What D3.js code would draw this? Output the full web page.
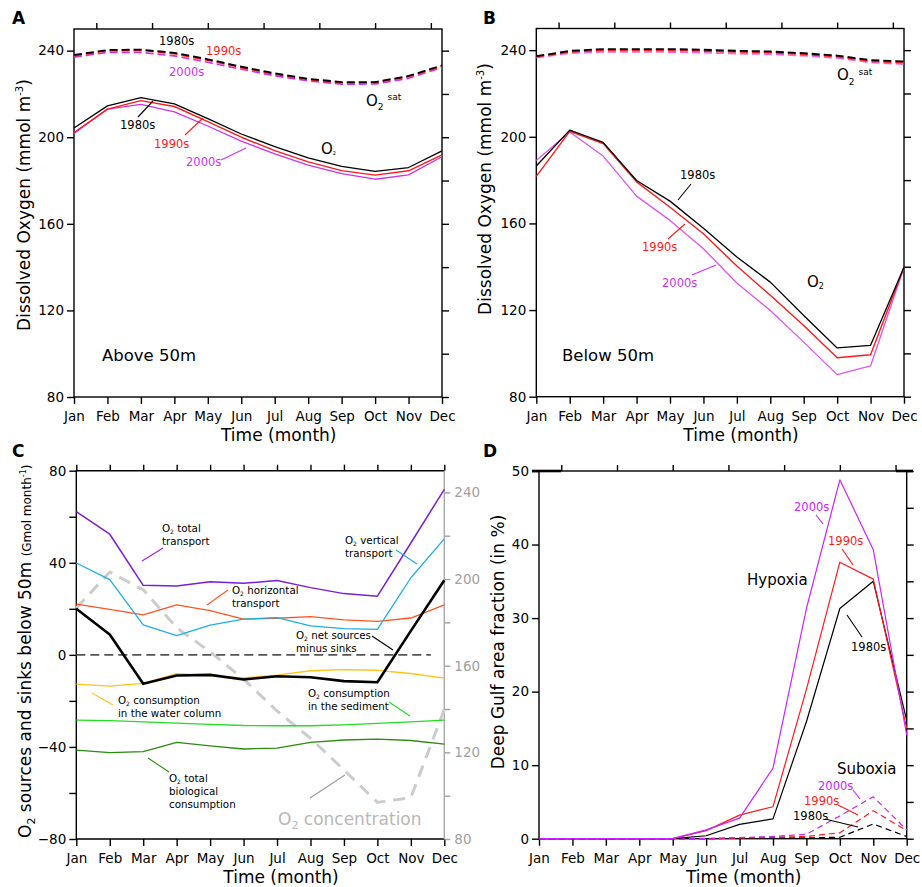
<!DOCTYPE html>
<html>
<head>
<meta charset="utf-8">
<script src="https://cdn.jsdelivr.net/npm/d3@7"></script>
<style>
  body { margin: 0; background: #fff; }
  svg { display: block; }
</style>
</head>
<body>
<svg id="fig" width="922" height="887"></svg>
<script>
// ---------- data ----------
const months = ["Jan","Feb","Mar","Apr","May","Jun","Jul","Aug","Sep","Oct","Nov","Dec"];

// A: dissolved oxygen above 50 m (mmol m-3)
const aboveO2_1980s  = [204.3, 214.5, 218.3, 215.4, 208.6, 201.5, 195.7, 190.5, 186.5, 184.2, 186.0, 193.7];
const aboveO2_1990s  = [202.2, 213.0, 216.9, 214.2, 207.2, 200.0, 193.8, 188.6, 184.6, 182.5, 184.5, 191.8];
const aboveO2_2000s  = [201.7, 213.0, 215.2, 211.7, 205.2, 198.2, 192.3, 187.1, 183.2, 180.6, 182.6, 191.0];
const aboveSat_1980s = [238.0, 240.3, 240.5, 239.0, 236.0, 232.6, 229.5, 227.0, 225.5, 225.5, 228.3, 233.2];
const aboveSat_1990s = [237.6, 240.0, 240.2, 238.6, 235.6, 232.2, 229.1, 226.6, 225.1, 225.2, 228.0, 232.8];
const aboveSat_2000s = [237.0, 239.2, 239.2, 237.6, 234.6, 231.4, 228.4, 226.0, 224.5, 224.6, 227.2, 232.2];

// B: dissolved oxygen below 50 m (mmol m-3)
const belowO2_1980s  = [186.5, 203.1, 197.4, 179.8, 170.3, 157.8, 144.5, 132.9, 117.5, 102.5, 103.7, 139.8];
const belowO2_1990s  = [181.7, 202.5, 196.9, 179.2, 167.5, 155.2, 140.3, 126.8, 112.9, 98.0, 99.4, 139.8];
const belowO2_2000s  = [189.1, 202.2, 191.1, 172.6, 161.4, 148.3, 132.5, 119.8, 105.2, 90.2, 94.2, 139.8];
const belowSat_1980s = [237.2, 239.7, 240.5, 240.5, 240.5, 240.2, 239.7, 239.4, 238.6, 237.5, 235.4, 234.8];
const belowSat_1990s = [236.9, 239.2, 240.0, 240.0, 239.9, 239.6, 239.2, 238.9, 238.1, 237.0, 234.9, 234.2];
const belowSat_2000s = [236.5, 238.6, 239.2, 239.2, 239.1, 238.8, 238.4, 238.1, 237.4, 236.4, 234.3, 233.5];

// C: O2 sources and sinks below 50 m (Gmol month-1)
const totalTransport        = [62.2, 52.4, 30.2, 29.9, 31.8, 31.1, 32.3, 29.2, 26.6, 25.5, 48.6, 71.9];
const verticalTransport     = [39.9, 32.7, 13.0, 8.4, 12.9, 15.5, 16.2, 12.6, 11.4, 11.1, 33.5, 50.4];
const horizontalTransport   = [22.0, 19.8, 17.4, 21.7, 19.2, 15.5, 15.9, 16.6, 15.2, 14.5, 16.0, 21.7];
const netSourcesMinusSinks  = [20.0, 8.8, -12.6, -9.0, -8.7, -10.7, -9.3, -9.7, -11.4, -11.9, 10.4, 32.4];
const waterColumnConsumption= [-12.7, -13.6, -12.4, -8.2, -9.0, -10.0, -8.8, -6.9, -6.4, -6.7, -8.1, -10.1];
const sedimentConsumption   = [-28.4, -28.6, -29.1, -29.7, -30.2, -30.7, -30.8, -30.8, -30.4, -29.8, -29.1, -28.4];
const biologicalConsumption = [-41.4, -42.5, -42.0, -38.0, -39.5, -40.9, -40.5, -38.0, -37.0, -36.6, -37.2, -38.8];
// O2 concentration below 50 m (right axis, mmol m-3)
const o2Concentration       = [186.6, 203.2, 195.0, 177.5, 166.4, 153.8, 139.1, 126.5, 111.9, 96.9, 99.1, 139.8];

// D: deep Gulf area fraction (%)
const hypoxia_1980s = [0, 0, 0, 0, 0, 0.4, 1.95, 2.7, 15.9, 31.3, 35.0, 16.1];
const hypoxia_1990s = [0, 0, 0, 0, 0, 1.1, 3.2, 4.35, 20.3, 37.6, 35.3, 15.0];
const hypoxia_2000s = [0, 0, 0, 0, 0, 1.2, 2.8, 9.6, 31.3, 48.8, 39.3, 14.1];
const suboxia_1980s = [0, 0, 0, 0, 0, 0, 0.05, 0.1, 0.1, 0.2, 2.0, 0.3];
const suboxia_1990s = [0, 0, 0, 0, 0, 0, 0.1, 0.2, 0.3, 0.8, 3.8, 1.1];
const suboxia_2000s = [0, 0, 0, 0, 0, 0.05, 0.15, 0.3, 0.6, 3.1, 5.7, 1.2];

// ---------- drawing ----------
const FONT = "'DejaVu Sans', Verdana, sans-serif";
const svg = d3.select("#fig").attr("font-family", FONT);

const C_RED = "#ff1a1a", C_MAG = "#cc33ee", C_MAG_D = "#cc22ff";
const topTicks = [2/3, 7/3, 4, 17/3, 22/3, 9, 32/3];

function makePanel(box, yDomain) {
  const g = svg.append("g");
  const x = d3.scaleLinear().domain([0, 11]).range([box.left, box.right]);
  const y = d3.scaleLinear().domain(yDomain).range([box.bottom, box.top]);
  return { g, x, y, box };
}

function tidy(sel, color, size) {
  sel.select(".domain").remove();
  sel.attr("font-family", FONT).attr("font-size", size || 13.5);
  sel.selectAll(".tick line").attr("stroke", color).attr("stroke-width", 1.4);
  sel.selectAll(".tick text").attr("fill", color);
}

function axes(p, cfg) {
  const b = p.box;
  const gb = p.g.append("g").attr("transform", `translate(0,${b.bottom})`)
    .call(d3.axisBottom(p.x).tickValues(d3.range(12)).tickFormat(i => months[i]).tickSize(7).tickPadding(7.4));
  tidy(gb, "#000");
  const gt = p.g.append("g").attr("transform", `translate(0,${b.top})`)
    .call(d3.axisTop(p.x).tickValues(cfg.top).tickSize(6).tickFormat(""));
  tidy(gt, "#000");
  const gl = p.g.append("g").attr("transform", `translate(${b.left},0)`)
    .call(d3.axisLeft(p.y).tickValues(cfg.major).tickSize(7).tickPadding(3));
  tidy(gl, "#000");
  if (cfg.leftMinor) {
    const gm = p.g.append("g").attr("transform", `translate(${b.left},0)`)
      .call(d3.axisLeft(p.y).tickValues(cfg.minor).tickSize(7).tickFormat(""));
    tidy(gm, "#000");
  }
  if (cfg.rightTicks !== false) {
    const gr = p.g.append("g").attr("transform", `translate(${b.right},0)`)
      .call(d3.axisRight(p.y).tickValues(cfg.major.concat(cfg.minor)).tickSize(7).tickFormat(""));
    tidy(gr, "#000");
  }
  if (cfg.frame !== false) {
    p.g.append("rect").attr("x", b.left).attr("y", b.top)
      .attr("width", b.right - b.left).attr("height", b.bottom - b.top)
      .attr("fill", "none").attr("stroke", "#000").attr("stroke-width", 1.4);
  }
}

function series(p, values, color, width, dash, yScale) {
  const ys = yScale || p.y;
  const line = d3.line().x((d, i) => p.x(i)).y(d => ys(d));
  const path = p.g.append("path").datum(values).attr("d", line)
    .attr("fill", "none").attr("stroke", color).attr("stroke-width", width)
    .attr("stroke-linejoin", "round");
  if (dash) path.attr("stroke-dasharray", dash);
  return path;
}

function label(x, y, text, color, size, weight) {
  return svg.append("text").attr("x", x).attr("y", y).attr("fill", color)
    .attr("font-size", size).attr("font-weight", weight || null).text(text);
}

function leader(x1, y1, x2, y2, color) {
  svg.append("line").attr("x1", x1).attr("y1", y1).attr("x2", x2).attr("y2", y2)
    .attr("stroke", color).attr("stroke-width", 1.1);
}

// "O2" with subscript, optionally followed by more text
function o2(x, y, size, color, after, subSize, subDy) {
  const t = svg.append("text").attr("x", x).attr("y", y).attr("fill", color).attr("font-size", size);
  t.append("tspan").text("O");
  const sd = subDy != null ? subDy : size * 0.28;
  t.append("tspan").attr("font-size", subSize || size * 0.6).attr("dy", sd).text("2");
  if (after) t.append("tspan").attr("dy", -sd).text(after);
  return t;
}

function o2sat(x, y) {
  const t = svg.append("text").attr("x", x).attr("y", y).attr("fill", "#000").attr("font-size", 15);
  t.append("tspan").text("O");
  t.append("tspan").attr("font-size", 9).attr("dy", 4.5).text("2");
  t.append("tspan").attr("font-size", 9).attr("dx", 4).attr("dy", -10).text("sat");
}

function xTitle(p) {
  svg.append("text").attr("x", p.box.left + 147).attr("y", p.box.bottom + 44)
    .attr("font-size", 17).attr("fill", "#000").text("Time (month)");
}

function oxygenTitle(x, y) {
  const t = svg.append("text").attr("transform", `translate(${x},${y}) rotate(-90)`)
    .attr("text-anchor", "middle").attr("font-size", 17).attr("fill", "#000");
  t.append("tspan").text("Dissolved Oxygen (mmol m");
  t.append("tspan").attr("font-size", 10).attr("dy", -7).text("-3");
  t.append("tspan").attr("dy", 7).text(")");
}

// ===== Panel A =====
const pA = makePanel({ left: 74, right: 442, top: 29, bottom: 397 }, [80, 250]);
axes(pA, { top: topTicks, major: [80, 120, 160, 200, 240], minor: [100, 140, 180, 220] });
series(pA, aboveSat_2000s, C_MAG, 1.6, "8,4");
series(pA, aboveSat_1990s, C_RED, 1.8, "8,4");
series(pA, aboveSat_1980s, "#000", 1.8, "8,4");
series(pA, aboveO2_2000s, C_MAG, 1.3);
series(pA, aboveO2_1990s, C_RED, 1.4);
series(pA, aboveO2_1980s, "#000", 1.3);

label(12, 24, "A", "#000", 17, "bold");
oxygenTitle(30, 205);
xTitle(pA);
label(159, 45, "1980s", "#000", 11.5);
label(206, 55, "1990s", C_RED, 11.5);
label(169, 76, "2000s", C_MAG, 11.5);
label(120, 129, "1980s", "#000", 11.5);
leader(138, 117, 153, 101, "#000");
label(154, 148, "1990s", C_RED, 11.5);
leader(185, 135, 203, 118, C_RED);
label(186, 166, "2000s", C_MAG, 11.5);
leader(221, 160, 246, 148, C_MAG);
o2(321, 154, 15, "#000", null, 5, 1);
o2sat(366, 105.5);
label(102, 361, "Above 50m", "#000", 16.5);

// ===== Panel B =====
const pB = makePanel({ left: 536.3, right: 904, top: 28.5, bottom: 396.7 }, [80, 250]);
axes(pB, { top: topTicks, major: [80, 120, 160, 200, 240], minor: [100, 140, 180, 220] });
series(pB, belowSat_2000s, "#ee66ee", 1.6, "8,4");
series(pB, belowSat_1990s, C_RED, 1.8, "8,4");
series(pB, belowSat_1980s, "#000", 1.8, "8,4");
series(pB, belowO2_2000s, "#e055e8", 1.3);
series(pB, belowO2_1990s, C_RED, 1.4);
series(pB, belowO2_1980s, "#000", 1.3);

label(483, 24, "B", "#000", 17, "bold");
oxygenTitle(491, 189);
xTitle(pB);
label(680, 179, "1980s", "#000", 11.5);
leader(678, 200, 691, 184, "#000");
label(642, 251, "1990s", C_RED, 11.5);
leader(668, 239, 685, 224, C_RED);
label(662, 287, "2000s", C_MAG, 11.5);
leader(692, 275, 716, 265, C_MAG);
o2(807, 287, 15, "#000", null, 8, 2);
o2sat(837, 80);
label(562, 361, "Below 50m", "#000", 16.5);

// ===== Panel C =====
const pC = makePanel({ left: 76.3, right: 444.3, top: 470.7, bottom: 839 }, [-80, 80]);
const yConc = d3.scaleLinear().domain([80, 250]).range([839, 470.7]);
axes(pC, { top: d3.range(12), major: [-80, -40, 0, 40, 80], minor: [-60, -20, 20, 60],
           leftMinor: true, rightTicks: false, frame: false });
// gray right axis for O2 concentration
const grR = pC.g.append("g").attr("transform", `translate(${pC.box.right},0)`)
  .call(d3.axisRight(yConc).tickValues([80, 120, 160, 200, 240]).tickSize(6).tickPadding(4));
tidy(grR, "#a0a0a0");
const grRm = pC.g.append("g").attr("transform", `translate(${pC.box.right},0)`)
  .call(d3.axisRight(yConc).tickValues([100, 140, 180, 220]).tickSize(6).tickFormat(""));
tidy(grRm, "#a0a0a0");
// frame: black on three sides, gray on the right
{
  const b = pC.box;
  pC.g.append("path").attr("d", `M${b.right},${b.top}H${b.left}V${b.bottom}H${b.right}`)
    .attr("fill", "none").attr("stroke", "#000").attr("stroke-width", 1.4);
  pC.g.append("line").attr("x1", b.right).attr("x2", b.right).attr("y1", b.top).attr("y2", b.bottom)
    .attr("stroke", "#a8a8a8").attr("stroke-width", 1.4);
}
series(pC, o2Concentration, "#cccccc", 3, "12,8", yConc);
// zero reference
pC.g.append("line").attr("x1", pC.x(0)).attr("x2", pC.x(10.6)).attr("y1", pC.y(0)).attr("y2", pC.y(0))
  .attr("stroke", "#555").attr("stroke-width", 1.8).attr("stroke-dasharray", "9,5");
series(pC, sedimentConsumption, "#22dd22", 1.3);
series(pC, biologicalConsumption, "#2a8c10", 1.3);
series(pC, horizontalTransport, "#ff5522", 1.3);
series(pC, verticalTransport, "#1eaee8", 1.3);
series(pC, totalTransport, "#7a1fd6", 1.5);
series(pC, waterColumnConsumption, "#ffc21a", 1.3);
series(pC, netSourcesMinusSinks, "#000", 2.6);

label(12, 457, "C", "#000", 17, "bold");
{
  const t = svg.append("text").attr("transform", "translate(31,838) rotate(-90)").attr("fill", "#000");
  t.append("tspan").attr("font-size", 17).text("O");
  t.append("tspan").attr("font-size", 11).attr("dy", 4).text("2");
  t.append("tspan").attr("font-size", 17).attr("dy", -4).text(" sources and sinks below 50m ");
  t.append("tspan").attr("font-size", 12).text("(Gmol month");
  t.append("tspan").attr("font-size", 8).attr("dy", -5).text("-1");
  t.append("tspan").attr("font-size", 12).attr("dy", 5).text(")");
}
xTitle(pC);
const CL = 10.3, LH = 13;
o2(162, 532, CL, "#000", " total", 6, 2); label(162, 532 + LH, "transport", "#000", CL);
leader(142, 561, 163, 548, "#a020e0");
o2(345, 544, CL, "#000", " vertical", 6, 2); label(345, 544 + LH, "transport", "#000", CL);
leader(396, 550, 417, 564, "#1eaee8");
o2(232, 594, CL, "#000", " horizontal", 6, 2); label(232, 594 + LH, "transport", "#000", CL);
leader(207, 605, 228, 590, "#ff5522");
o2(296, 639, CL, "#000", " net sources", 6, 2); label(296, 639 + LH, "minus sinks", "#000", CL);
leader(372, 636, 393, 650, "#000");
o2(118, 704, CL, "#000", " consumption", 6, 2); label(118, 704 + LH, "in the water column", "#000", CL);
leader(92, 693, 113, 705, "#ffc21a");
o2(308, 697, CL, "#000", " consumption", 6, 2); label(308, 697 + LH, "in the sediment", "#000", CL);
leader(389, 702, 410, 716, "#22dd22");
o2(169, 782, CL, "#000", " total", 6, 2); label(169, 782 + LH, "biological", "#000", CL);
label(169, 782 + 2 * LH, "consumption", "#000", CL);
leader(148, 758, 169, 772, "#2a8c10");
o2(278, 825, 17, "#b8b8b8", " concentration", 11, 4);
leader(310, 798, 345, 775, "#999");

// ===== Panel D =====
const pD = makePanel({ left: 539, right: 906.7, top: 471, bottom: 838.7 }, [0, 50]);
axes(pD, { top: topTicks, major: [0, 10, 20, 30, 40, 50], minor: [5, 15, 25, 35, 45] });
pD.g.append("line").attr("x1", 532).attr("x2", 561).attr("y1", 471).attr("y2", 471)
  .attr("stroke", "#000").attr("stroke-width", 2.6);
pD.g.append("line").attr("x1", 896).attr("x2", 913).attr("y1", 471).attr("y2", 471)
  .attr("stroke", "#000").attr("stroke-width", 2.6);
series(pD, suboxia_1980s, "#000", 1.2, "6,4");
series(pD, suboxia_1990s, C_RED, 1.2, "6,4");
series(pD, suboxia_2000s, C_MAG_D, 1.2, "6,4");
series(pD, hypoxia_1980s, "#000", 1.2);
series(pD, hypoxia_1990s, C_RED, 1.2);
series(pD, hypoxia_2000s, C_MAG_D, 1.2);

label(483, 457, "D", "#000", 17, "bold");
svg.append("text").attr("transform", "translate(504,642) rotate(-90)").attr("text-anchor", "middle")
  .attr("font-size", 17).attr("fill", "#000").text("Deep Gulf area fraction (in %)");
xTitle(pD);
label(794, 511, "2000s", C_MAG_D, 11.5);
leader(816, 515, 823, 524, C_MAG_D);
label(828, 545, "1990s", C_RED, 11.5);
leader(842, 549, 853, 565, C_RED);
label(747, 585, "Hypoxia", "#000", 15);
label(851, 651, "1980s", "#000", 11.5);
leader(847, 615, 862, 637, "#000");
label(837, 774, "Suboxia", "#000", 15);
label(818, 790, "2000s", C_MAG_D, 11.5);
leader(853, 790, 860, 799, C_MAG_D);
label(804, 805, "1990s", C_RED, 11.5);
leader(838, 805, 858, 815, C_RED);
label(793, 820, "1980s", "#000", 11.5);
leader(825, 819, 858, 827, "#000");
</script>
</body>
</html>
